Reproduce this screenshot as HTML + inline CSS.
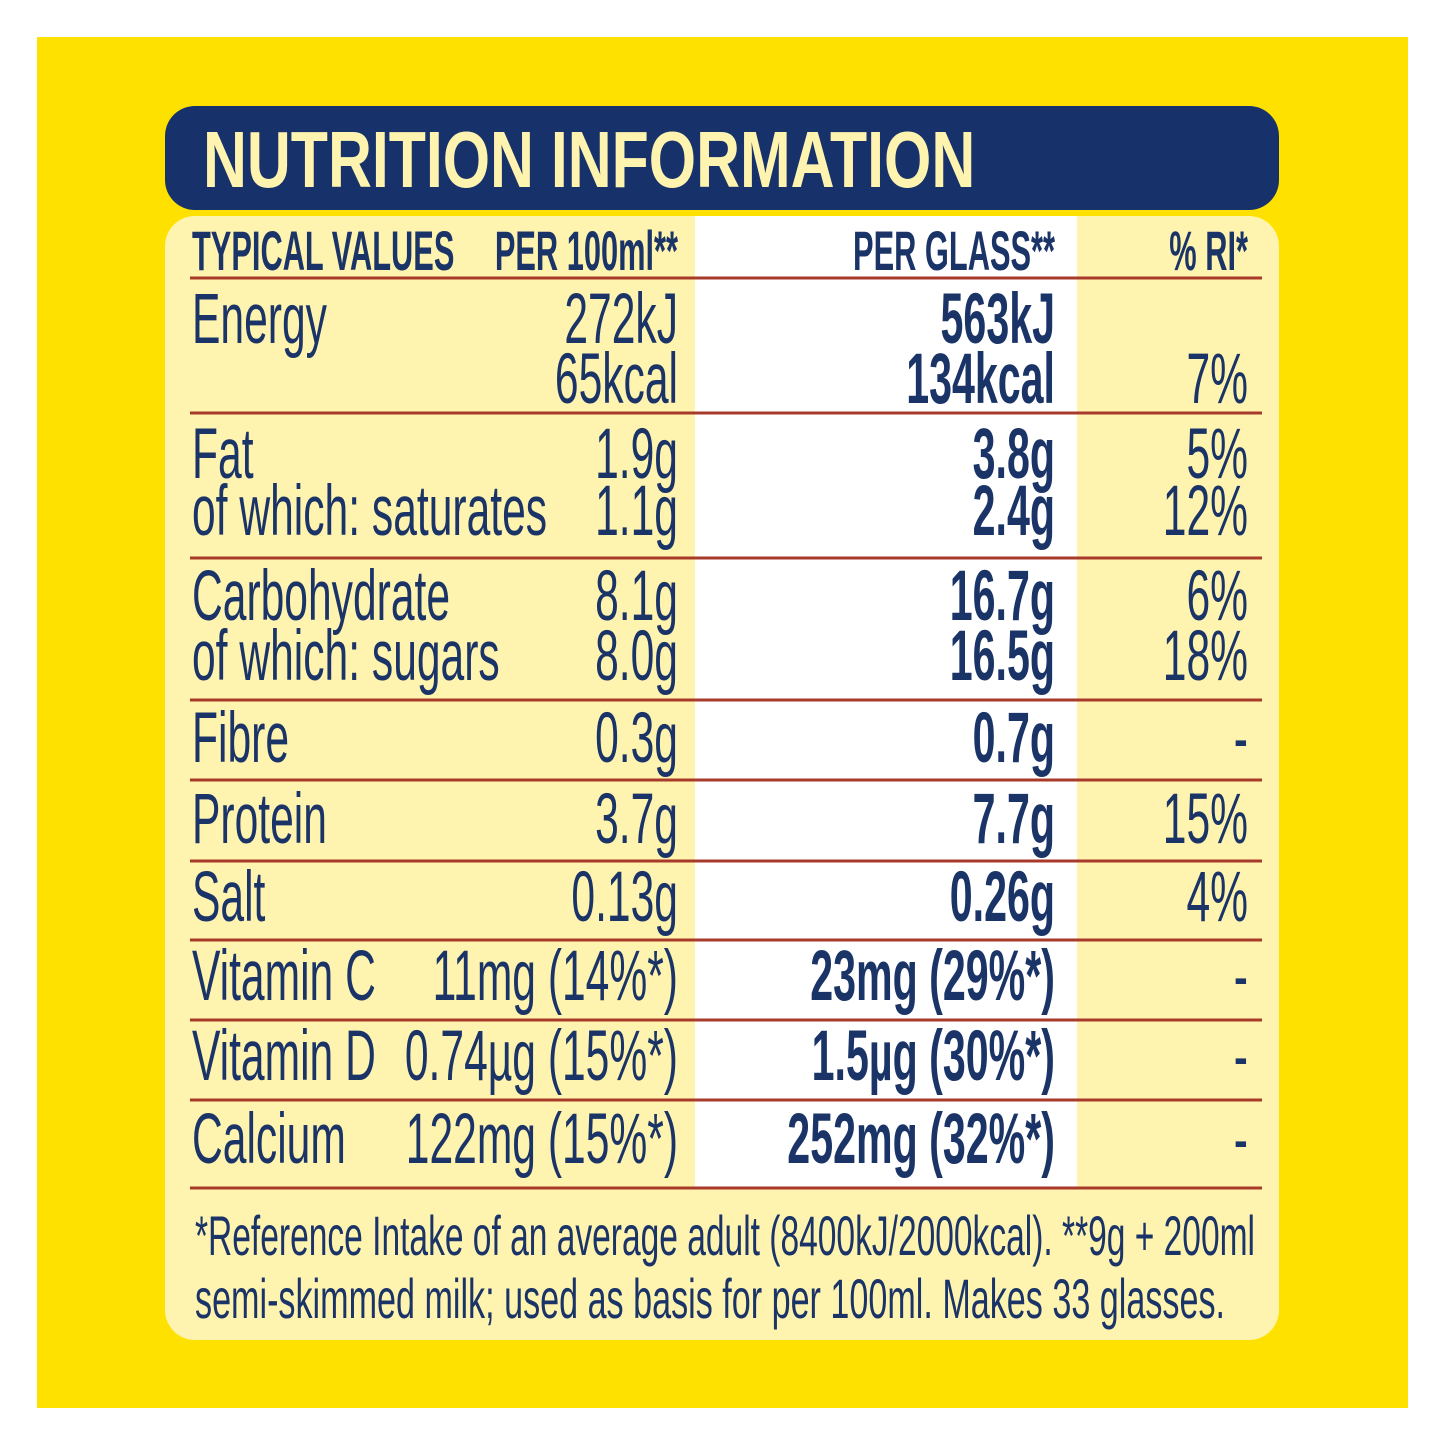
<!DOCTYPE html>
<html><head><meta charset="utf-8"><style>
html,body{margin:0;padding:0;background:#fff;}
svg{display:block;}
text{font-family:"Liberation Sans",sans-serif;fill:#1b3467;}
</style></head><body>
<svg id="s" width="1445" height="1445" viewBox="0 0 1445 1445">
<rect x="37" y="37" width="1371" height="1371" fill="#ffe100"/>
<rect x="165" y="106" width="1114" height="104" rx="30" fill="#17326a"/>
<rect x="165" y="216" width="1114" height="1124" rx="30" fill="#fff3b0"/>
<rect x="695" y="216" width="382" height="972" fill="#ffffff"/>
<g transform="translate(203,187) scale(0.76,1)"><text font-size="80" font-weight="bold" style="fill:#fff3b0">NUTRITION INFORMATION</text></g>
<g id="content"></g>
</svg>
<script>
const headers=[["TYPICAL VALUES",192,"start"],["PER 100ml**",678,"end"],["PER GLASS**",1055,"end"],["% RI*",1248,"end"]];
const labels=["Energy","","Fat","of which: saturates","Carbohydrate","of which: sugars","Fibre","Protein","Salt","Vitamin C","Vitamin D","Calcium"];
const per100=["272kJ","65kcal","1.9g","1.1g ","8.1g","8.0g","0.3g","3.7g","0.13g","11mg (14%*)","0.74µg (15%*)","122mg (15%*)"];
const perGlass=["563kJ","134kcal","3.8g","2.4g","16.7g","16.5g","0.7g","7.7g","0.26g","23mg (29%*)","1.5µg (30%*)","252mg (32%*)"];
const ri=["","7%","5%","12%","6%","18%","-","15%","4%","-","-","-"];
const baselines=[343,403,478,535,620,680,762,843,921,1000,1080,1163];
const dividers=[278,413,558,700,780,861,940,1020,1100,1188];
const footer=["*Reference Intake of an average adult (8400kJ/2000kcal). **9g + 200ml","semi-skimmed milk; used as basis for per 100ml. Makes 33 glasses."];
const NS="http://www.w3.org/2000/svg";
const c=document.getElementById('content');
function txt(str,x,y,size,bold,anchor,sx,name){
  const g=document.createElementNS(NS,'g');
  g.setAttribute('transform','translate('+x+','+y+') scale('+sx+',1)');
  const t=document.createElementNS(NS,'text');
  t.setAttribute('font-size',size);
  if(bold)t.setAttribute('font-weight','bold');
  t.setAttribute('text-anchor',anchor);
  t.textContent=str;
  
  
  g.appendChild(t);c.appendChild(g);return t;
}
headers.forEach(h=>txt(h[0],h[1],270,56,true,h[2],0.55,'column-header'));
dividers.forEach(y=>{
  const l=document.createElementNS(NS,'rect');
  l.setAttribute('x',190);l.setAttribute('y',y-1.5);l.setAttribute('width',1072);l.setAttribute('height',3);
  l.setAttribute('fill','#a83a2a');
  
  
  c.appendChild(l);
});
baselines.forEach((y,i)=>{
  if(labels[i])txt(labels[i],192,y,71,false,'start',0.6,'nutrient-label');
  txt(per100[i],678,y,71,false,'end',0.6,'per-100ml-value');
  txt(perGlass[i],1055,y,71,true,'end',0.58,'per-glass-value');
  if(ri[i])txt(ri[i],1248,y,71,false,'end',0.6,'ri-value');
});
footer.forEach((f,i)=>{
  const t=txt(f,195,1255+i*63,56,false,'start',1,'footnote');
  t.setAttribute('textLength',i===0?1060:1030);
  t.setAttribute('lengthAdjust','spacingAndGlyphs');
});
</script>
</body></html>
